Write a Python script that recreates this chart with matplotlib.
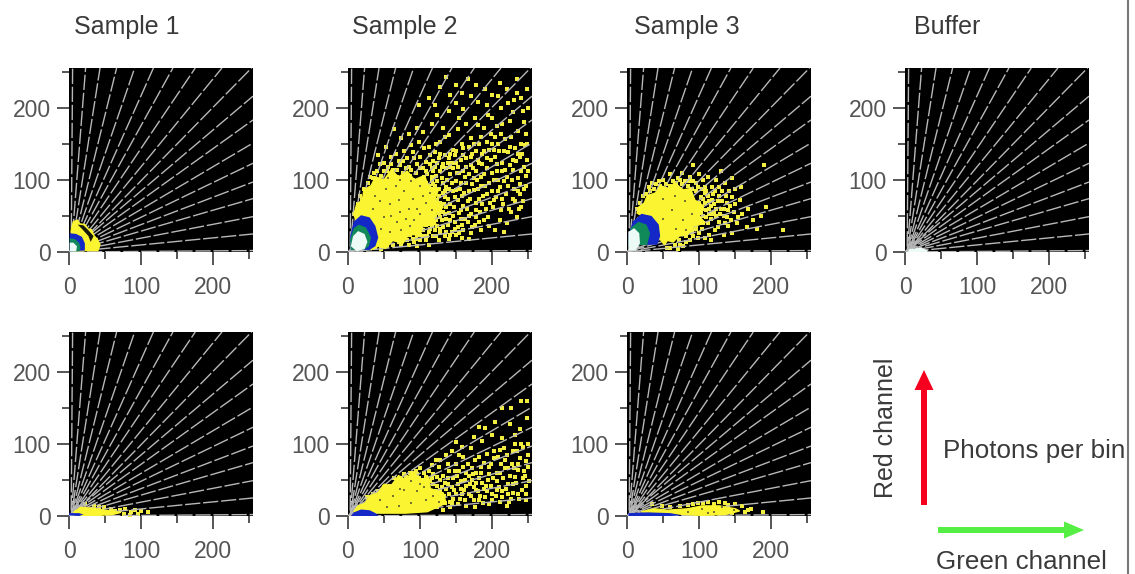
import numpy as np
import matplotlib
matplotlib.use("Agg")
import matplotlib.pyplot as plt
from matplotlib.patches import Polygon

plt.rcParams['font.family'] = ['Liberation Sans', 'DejaVu Sans']

W, H = 1135, 574
GREY = '#555555'

titles = ['Sample 1', 'Sample 2', 'Sample 3', 'Buffer']
major_ticks = [0, 100, 200]
minor_ticks = [50, 150, 250]

# where the rays leave the panel: on the right edge (x=255) and on the top edge (y=255)
ray_right_y = [2, 25, 49, 74, 97, 123, 151, 183, 216]
ray_top_x = [253, 212, 175, 144, 117, 91, 66, 43, 23, 5]
ray_phase = [0, 7, 3, 11, 5, 1, 2, 9, 4, 10, 6, 1, 8, 8, 3, 11, 5, 0, 9]

# yellow clouds
s1_top_yellow = [(3, 30), (6, 42), (12, 44), (15, 39), (22, 38), (26, 32), (31, 31), (35, 22), (39, 18), (43, 10), (40, 2), (6, 2)]
s1_top_black = [(12, 38), (20, 37), (27, 30), (34, 22), (30, 14), (27, 22), (18, 32)]
s1_top_blue = [(1, 26), (10, 25), (18, 21), (22, 12), (22, 2), (1, 1)]
s1_top_green = [(1, 19), (8, 18), (14, 13), (16, 6), (14, 1), (1, 1)]
s1_top_white = [(1, 13), (6, 13), (11, 8), (10, 1), (1, 1)]

s2_top_core = [(12, 42), (8, 52), (12, 66), (20, 72), (22, 86), (32, 92), (38, 104), (50, 100), (60, 114),
               (70, 104), (82, 112), (92, 100), (106, 106), (112, 90), (126, 88), (120, 72), (132, 62),
               (118, 50), (122, 38), (104, 36), (100, 24), (84, 24), (76, 12), (62, 16), (52, 5), (42, 8), (32, 3), (38, 30)]
s2_top_blue = [(3, 22), (8, 42), (18, 51), (30, 48), (38, 36), (42, 20), (38, 8), (30, 3), (4, 3)]
s2_top_green = [(3, 18), (8, 33), (15, 38), (25, 34), (32, 20), (29, 8), (22, 3), (4, 3)]
s2_top_white = [(4, 8), (7, 22), (14, 29), (23, 25), (27, 14), (23, 4), (12, 1)]
s2_top_points = [
    (108, 125), (118, 112), (124, 98), (130, 118), (136, 90), (142, 108), (148, 76), (150, 124),
    (156, 96), (160, 64), (163, 118), (168, 84), (172, 136), (175, 102), (178, 58), (182, 74),
    (186, 122), (190, 92), (194, 48), (197, 68), (200, 110), (204, 132), (208, 84), (212, 58),
    (216, 98), (220, 40), (224, 120), (228, 74), (232, 144), (236, 102), (240, 62), (244, 88),
    (248, 128), (112, 146), (120, 138), (128, 152), (134, 134), (140, 162), (146, 142), (152, 170),
    (158, 150), (164, 178), (170, 158), (176, 186), (182, 150), (188, 172), (194, 190), (200, 150),
    (206, 174), (212, 200), (218, 156), (224, 182), (230, 210), (236, 168), (242, 196), (248, 150),
    (92, 130), (84, 118), (76, 126), (68, 114), (60, 122), (98, 152), (88, 148), (78, 140),
    (66, 136), (54, 112), (46, 106), (40, 112), (34, 102), (28, 96), (22, 88), (16, 78),
    (104, 166), (96, 172), (84, 164), (116, 178), (124, 190), (132, 172), (140, 196), (150, 206),
    (160, 198), (170, 216), (180, 208), (190, 226), (200, 218), (210, 234), (220, 226), (234, 240),
    (150, 232), (128, 228), (112, 214), (98, 204), (74, 158), (64, 170), (52, 146), (42, 134),
    (112, 52), (118, 66), (122, 44), (126, 78), (132, 56), (138, 38), (142, 66), (146, 50),
    (152, 34), (156, 46), (120, 30), (128, 26), (134, 22), (144, 28), (160, 30), (166, 42),
    (170, 26), (176, 38), (184, 30), (188, 44), (196, 36), (204, 30), (210, 44), (216, 28),
    (106, 84), (112, 92), (116, 76), (122, 84), (128, 68), (134, 76), (140, 88), (144, 96),
    (106, 104), (100, 96), (94, 110), (86, 106), (76, 110), (68, 104), (100, 116), (110, 72),
    (104, 30), (96, 24), (90, 18), (110, 22), (100, 16), (82, 16), (74, 10), (116, 40),
    (150, 86), (158, 78), (166, 70), (172, 94), (180, 88), (186, 66), (192, 80), (202, 72),
    (208, 100), (214, 74), (222, 92), (230, 88), (238, 80), (246, 106), (226, 56), (234, 48),
    (240, 112), (154, 110), (162, 104), (170, 120), (178, 112), (184, 104), (192, 116), (198, 128),
    (206, 122), (214, 112), (222, 138), (228, 128), (236, 136), (244, 118), (150, 140), (160, 134),
    (168, 146), (178, 140), (186, 136), (196, 142), (204, 160), (216, 140), (226, 160), (240, 150),
    (118, 126), (126, 130), (138, 124), (146, 116), (90, 94), (108, 60), (116, 54), (122, 58),
    (104, 70), (108, 80), (102, 88), (96, 90), (90, 100), (84, 96), (78, 102), (72, 98), (64, 104),
    (56, 102), (50, 96), (44, 98), (38, 92), (32, 88), (26, 82), (20, 74), (14, 66), (8, 52),
    (106, 64), (110, 48), (104, 44), (100, 36), (92, 32), (86, 24), (78, 20), (70, 14), (62, 10),
    (54, 8), (46, 4), (38, 6), (114, 62), (118, 80), (112, 84), (126, 88), (132, 96), (116, 100),
    (110, 108), (104, 116), (96, 122), (88, 114), (80, 116), (72, 120), (62, 114), (56, 118),
    (50, 112), (44, 122), (36, 110), (30, 104), (118, 94), (124, 72), (128, 60), (136, 62),
    (134, 84), (130, 102), (122, 106), (116, 116), (108, 96), (128, 48), (136, 46), (140, 54),
    (108, 38), (114, 32), (124, 36), (132, 34), (100, 24), (92, 14), (108, 16), (118, 22),
    (126, 16), (140, 18), (150, 24), (158, 20), (168, 18), (84, 10), (96, 8), (112, 10),
    (248, 226), (240, 214), (244, 180), (238, 132), (250, 200), (222, 206), (208, 216), (214, 178),
    (192, 204), (178, 232), (166, 240), (158, 220), (142, 218), (136, 242), (120, 204), (180, 176),
    (200, 186), (228, 194), (234, 220), (246, 164), (154, 186), (134, 160), (122, 150), (142, 136),
    # second pass through the busy middle of the cloud
    (103, 76), (109, 90), (113, 68), (117, 104), (121, 92), (125, 64), (127, 112), (131, 82),
    (133, 66), (137, 100), (139, 74), (141, 118), (145, 84), (147, 62), (149, 98), (151, 110),
    (153, 72), (155, 88), (157, 58), (159, 112), (161, 82), (163, 96), (165, 60), (167, 108),
    (169, 74), (171, 52), (173, 116), (175, 86), (177, 68), (179, 100), (181, 124), (183, 56),
    (185, 92), (187, 78), (189, 108), (191, 60), (193, 130), (195, 96), (199, 84), (201, 62),
    (203, 100), (205, 76), (207, 112), (209, 140), (211, 90), (213, 124), (215, 66), (217, 114),
    (219, 80), (221, 104), (223, 60), (225, 146), (227, 100), (229, 114), (231, 70), (233, 126),
    (235, 84), (237, 60), (239, 94), (241, 136), (243, 70), (245, 148), (247, 92), (249, 112),
    (108, 112), (114, 122), (120, 118), (124, 124), (128, 136), (132, 122), (136, 116), (140, 130),
    (144, 124), (148, 134), (152, 118), (156, 128), (160, 144), (164, 130), (170, 132), (174, 150),
    (180, 128), (184, 160), (188, 140), (192, 152), (198, 164), (202, 142), (208, 150), (212, 164),
    (82, 130), (90, 138), (100, 132), (106, 144), (114, 134), (70, 126), (60, 132), (50, 124),
    (114, 44), (120, 50), (126, 54), (130, 44), (134, 52), (142, 44), (148, 42), (154, 54),
    (158, 38), (162, 46), (168, 50), (172, 34), (178, 48), (182, 42), (116, 36), (122, 22),
    (128, 32), (136, 28), (142, 24), (148, 32), (154, 26), (104, 22), (94, 18), (112, 28),
]
s2_top_holes = [(52, 88), (66, 92), (78, 84), (90, 74), (96, 60), (84, 60), (70, 72), (58, 66),
                (44, 70), (34, 60), (50, 48), (68, 42), (80, 46), (92, 44), (74, 30), (58, 28),
                (46, 32), (86, 36), (100, 52), (60, 50), (72, 56), (38, 78), (108, 68), (114, 82),
                (100, 92), (88, 98), (72, 100), (56, 102), (116, 58), (104, 78)]

s3_top_core = [(14, 54), (16, 62), (24, 68), (28, 78), (40, 82), (46, 92), (58, 88), (66, 96), (78, 86),
               (88, 88), (94, 72), (106, 64), (100, 50), (108, 40), (92, 36), (84, 24), (72, 22),
               (64, 14), (56, 16), (52, 10), (44, 20), (36, 42)]
s3_top_blue = [(2, 24), (8, 42), (20, 53), (34, 50), (44, 38), (46, 22), (42, 10), (30, 10), (2, 10)]
s3_top_green = [(2, 18), (6, 34), (16, 42), (27, 38), (32, 26), (28, 10), (2, 8)]
s3_top_white = [(2, 2), (2, 28), (10, 33), (17, 26), (18, 12), (12, 2)]
s3_top_points = [
    (108, 82), (114, 70), (118, 90), (124, 60), (128, 78), (134, 50), (138, 68), (142, 84),
    (148, 56), (152, 40), (156, 72), (160, 52), (166, 34), (112, 40), (118, 52), (122, 30),
    (128, 42), (134, 24), (140, 36), (146, 26), (106, 100), (96, 96), (88, 104), (80, 98),
    (70, 102), (60, 108), (50, 100), (40, 94), (30, 90), (22, 78), (100, 108), (112, 104),
    (124, 100), (130, 112), (92, 120), (76, 110), (84, 28), (92, 22), (100, 26), (108, 20),
    (116, 16), (74, 10), (82, 14), (60, 6), (70, 4), (128, 90), (136, 96), (146, 102),
    (150, 88), (158, 90), (168, 60), (174, 44), (180, 32), (186, 50), (192, 62), (216, 30),
    (190, 120), (110, 58), (120, 66), (106, 50), (104, 32), (114, 24), (96, 32), (90, 32),
    (100, 68), (104, 60), (102, 76), (96, 84), (90, 88), (84, 92), (76, 94), (68, 96), (60, 92),
    (54, 94), (46, 92), (38, 88), (32, 84), (26, 80), (18, 68), (14, 60), (100, 44), (104, 42),
    (110, 48), (96, 38), (90, 26), (82, 22), (72, 16), (66, 10), (56, 6), (114, 60), (112, 78),
    (118, 72), (108, 90), (116, 46), (124, 50), (130, 60), (136, 40), (126, 34), (144, 44),
    (108, 68), (122, 84), (132, 70), (140, 58), (106, 40), (98, 20), (88, 16), (78, 8), (34, 96),
    (103, 54), (106, 74), (110, 84), (113, 52), (116, 64), (119, 80), (121, 56), (126, 70),
    (129, 52), (131, 84), (135, 60), (137, 78), (139, 48), (143, 64), (145, 76), (150, 66),
    (154, 48), (98, 90), (92, 98), (104, 88), (86, 98), (74, 100), (64, 98), (44, 98),
]
s3_top_holes = [(50, 74), (66, 78), (80, 70), (90, 52), (78, 44), (62, 58), (50, 46), (68, 32), (82, 30)]

s1_low_yellow = [(6, 5), (16, 12), (30, 11), (50, 8), (72, 5), (60, 2), (40, 1), (14, 1)]
s1_low_blue = [(0, 1), (0, 4), (14, 4), (20, 2), (14, 0)]
s1_low_points = [(22, 16), (34, 14), (48, 12), (58, 10), (70, 8), (78, 10), (86, 6), (92, 9), (100, 7),
                 (110, 5), (64, 7), (76, 3), (84, 2), (96, 3), (54, 3), (42, 13)]

s2_low_core = [(8, 6), (14, 14), (24, 18), (30, 28), (42, 32), (50, 44), (60, 42), (70, 56), (80, 50),
               (90, 62), (100, 50), (112, 54), (114, 38), (132, 32), (136, 18), (110, 6), (80, 4), (48, 4)]
s2_low_blue = [(4, 0), (8, 5), (18, 9), (30, 8), (38, 4), (42, 0)]
s2_low_points = [
    (132, 56), (138, 72), (144, 40), (148, 62), (154, 84), (158, 30), (162, 50), (166, 72),
    (170, 94), (174, 40), (178, 60), (182, 82), (186, 104), (190, 26), (194, 50), (198, 72),
    (202, 90), (206, 36), (210, 60), (214, 108), (218, 78), (222, 44), (226, 24), (230, 66),
    (234, 90), (238, 120), (242, 52), (246, 76), (250, 100), (248, 136), (240, 100), (232, 112),
    (224, 128), (216, 94), (208, 82), (200, 112), (192, 86), (184, 68), (176, 78), (168, 56),
    (160, 68), (152, 44), (146, 24), (140, 30), (134, 18), (124, 54), (118, 58), (112, 62),
    (106, 60), (100, 66), (94, 62), (86, 60), (78, 58), (126, 68), (136, 84), (144, 90),
    (122, 78), (116, 70), (150, 102), (158, 96), (174, 110), (190, 122), (204, 130), (226, 150),
    (214, 150), (182, 124), (240, 160), (248, 160), (170, 28), (182, 22), (196, 16), (210, 20),
    (220, 14), (236, 30), (246, 22), (152, 16), (164, 14), (176, 12), (142, 12), (200, 30),
    (130, 40), (138, 52), (154, 62), (186, 46), (222, 66), (236, 72), (246, 42), (228, 44),
    (114, 34), (118, 44), (110, 46), (104, 50), (98, 52), (90, 50), (82, 50), (74, 46), (66, 46),
    (58, 42), (50, 40), (42, 34), (34, 30), (26, 26), (120, 24), (126, 30), (130, 22), (136, 38),
    (124, 42), (116, 52), (108, 54), (96, 58), (88, 56), (80, 54), (72, 52), (64, 52), (124, 12),
    (132, 8), (144, 18), (150, 30), (156, 38), (164, 42), (172, 50), (180, 34), (188, 38), (198, 42),
    (206, 48), (214, 34), (222, 30), (232, 54), (244, 62), (250, 84), (228, 90), (212, 72), (196, 58),
    (178, 46), (162, 22), (146, 52), (134, 46), (140, 62), (150, 72), (128, 78), (160, 82), (172, 66),
    (127, 36), (133, 28), (139, 44), (141, 20), (147, 36), (151, 56), (155, 24), (157, 48), (161, 36),
    (163, 60), (167, 30), (169, 44), (173, 58), (175, 22), (177, 36), (181, 52), (183, 28), (185, 60),
    (187, 18), (189, 74), (191, 42), (193, 34), (195, 68), (199, 22), (201, 52), (203, 80), (205, 28),
    (207, 60), (209, 40), (211, 92), (213, 26), (215, 52), (217, 66), (219, 38), (221, 84), (223, 20),
    (225, 56), (227, 72), (229, 32), (231, 100), (233, 46), (235, 64), (237, 24), (239, 80), (241, 36),
    (243, 96), (245, 56), (247, 30), (249, 68), (251, 48), (122, 34), (128, 50), (114, 48), (110, 36),
]
s2_low_holes = [(44, 22), (62, 28), (78, 36), (96, 34), (108, 22), (88, 18), (70, 14), (54, 12), (100, 44),
                (118, 28), (106, 40), (88, 48), (126, 20), (72, 38)]

s3_low_yellow = [(20, 6), (38, 10), (56, 8), (84, 10), (104, 14), (128, 14), (150, 10), (156, 7),
                 (136, 2), (100, 1), (66, 3)]
s3_low_blue = [(2, 0), (2, 4), (30, 5), (60, 4), (76, 1), (60, 0)]
s3_low_points = [(34, 16), (48, 14), (60, 12), (74, 14), (92, 16), (112, 20), (128, 19), (150, 16),
                 (172, 10), (188, 6), (98, 18), (120, 17), (140, 15), (160, 14), (164, 5), (168, 8),
                 (84, 15), (106, 18), (146, 4), (136, 18)]
s3_low_holes = [(84, 6), (104, 10), (120, 6), (132, 12), (148, 8), (112, 4)]

buffer_white = [(4, 0), (6, 4), (22, 6), (32, 2), (30, 0)]


def draw_panel(left, top, yellow=None, blue=None, green=None, white=None, points=None, holes=None, black=None):
    ax = fig.add_axes([left / W, 1 - (top + 184) / H, 184 / W, 184 / H], facecolor='black')
    ax.set_xlim(0, 255)
    ax.set_ylim(0, 255)
    i = 0
    for y in ray_right_y:
        ax.plot([0, 255], [0, y], color='#b8b8b8', lw=1.0, ls=(ray_phase[i], (11, 2)), zorder=2)
        i += 1
    for x in ray_top_x:
        ax.plot([3, x], [0, 255], color='#b8b8b8', lw=1.0, ls=(ray_phase[i], (11, 2)), zorder=2)
        i += 1
    if points:
        px, py = zip(*points)
        ax.scatter(px, py, s=8, marker='s', color='#f3ed40', lw=0, zorder=1)
    if yellow:
        ax.add_patch(Polygon(yellow, fc='#fbf531', ec='#fbf531', lw=1, zorder=3))
    if holes:
        hx, hy = zip(*holes)
        ax.scatter(hx, hy, s=3.5, marker='s', color='#77722f', lw=0, zorder=4)
    if black:
        ax.add_patch(Polygon(black, fc='#181808', ec='none', zorder=4))
    if blue:
        ax.add_patch(Polygon(blue, fc='#1428c8', ec='none', zorder=5))
    if green:
        ax.add_patch(Polygon(green, fc='#108a58', ec='none', zorder=6))
    if white:
        ax.add_patch(Polygon(white, fc='#ecfbf6', ec='none', zorder=7))
    ax.set_xticks(major_ticks)
    ax.set_yticks(major_ticks)
    ax.set_xticks(minor_ticks, minor=True)
    ax.set_yticks(minor_ticks, minor=True)
    ax.tick_params(which='major', length=9, width=1.4, color=GREY, labelcolor=GREY, labelsize=16.5, pad=4)
    ax.tick_params(axis='x', which='major', pad=8)
    ax.tick_params(which='minor', length=5, width=1.4, color=GREY)
    for s in ax.spines.values():
        s.set_visible(False)
    return ax


fig = plt.figure(figsize=(W / 100, H / 100), dpi=100)

lefts = [69, 348, 627, 905]
top_row, low_row = 68, 332

draw_panel(lefts[0], top_row, s1_top_yellow, s1_top_blue, s1_top_green, s1_top_white, black=s1_top_black)
draw_panel(lefts[1], top_row, s2_top_core, s2_top_blue, s2_top_green, s2_top_white, s2_top_points, s2_top_holes)
draw_panel(lefts[2], top_row, s3_top_core, s3_top_blue, s3_top_green, s3_top_white, s3_top_points, s3_top_holes)
draw_panel(lefts[3], top_row, white=buffer_white)
draw_panel(lefts[0], low_row, s1_low_yellow, s1_low_blue, points=s1_low_points)
draw_panel(lefts[1], low_row, s2_low_core, s2_low_blue, points=s2_low_points, holes=s2_low_holes)
draw_panel(lefts[2], low_row, s3_low_yellow, s3_low_blue, points=s3_low_points, holes=s3_low_holes)

# overlay in pixel coordinates for titles and the channel legend
ov = fig.add_axes([0, 0, 1, 1], facecolor='none')
ov.set_xlim(0, W)
ov.set_ylim(H, 0)
ov.axis('off')

title_x = [127, 405, 687, 947]
for t, x in zip(titles, title_x):
    ov.text(x, 27, t, ha='center', va='center', fontsize=18, color='#3a3a3a')

ov.arrow(924, 505, 0, -135, width=6, head_width=19, head_length=20, length_includes_head=True, color='#f5001e', lw=0)
ov.arrow(938, 530, 146, 0, width=6, head_width=17, head_length=20, length_includes_head=True, color='#55ee44', lw=0)
ov.text(886, 428, 'Red channel', rotation=90, ha='center', va='center', fontsize=18, color='#3a3a3a')
ov.text(943, 451, 'Photons per bin', ha='left', va='center', fontsize=18.7, color='#3a3a3a')
ov.text(1021, 562, 'Green channel', ha='center', va='center', fontsize=18.7, color='#3a3a3a')

# grey frame line at the right of the image
ov.plot([1128, 1128], [0, H], color='#777777', lw=1.5)

fig.savefig('out.png', dpi=100)
